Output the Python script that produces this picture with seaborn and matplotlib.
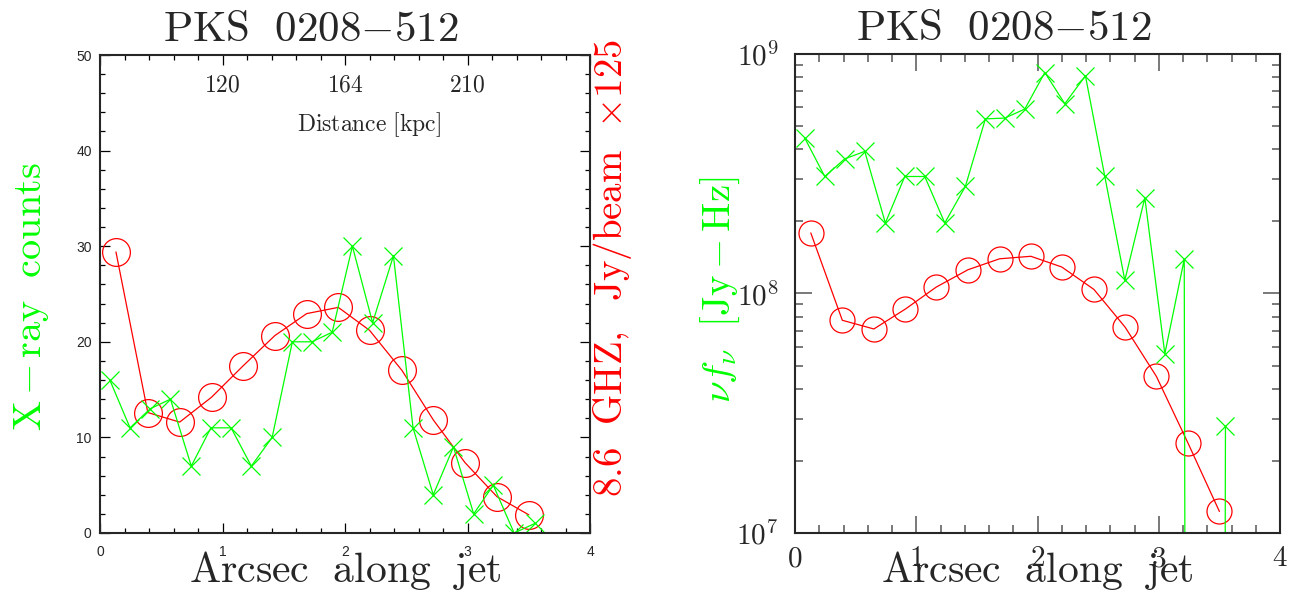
import numpy as np
import matplotlib
matplotlib.use("Agg")
import matplotlib.pyplot as plt
import seaborn as sns
from matplotlib.ticker import MultipleLocator, LogLocator, NullFormatter

# positions along the jet (arcsec)
xray_pos = [0.08, 0.245, 0.41, 0.575, 0.745, 0.905, 1.07, 1.235, 1.405, 1.57, 1.73,
            1.895, 2.06, 2.225, 2.395, 2.555, 2.72, 2.885, 3.05, 3.21, 3.38, 3.55]
xray_counts = [16, 11, 13, 14, 7, 11, 11, 7, 10, 20, 20, 21, 30, 22, 29, 11, 4, 9, 2, 5, 0, 1]
xray_nufnu = [4.46e8, 3.08e8, 3.65e8, 3.92e8, 1.97e8, 3.08e8, 3.08e8, 1.97e8, 2.80e8, 5.36e8,
              5.4e8, 5.89e8, 8.37e8, 6.2e8, 8.11e8, 3.08e8, 1.135e8, 2.51e8, 5.6e7, 1.39e8,
              0, 2.79e7]

radio_pos = [0.13, 0.39, 0.65, 0.91, 1.165, 1.427, 1.687, 1.945, 2.20, 2.465, 2.722, 2.98, 3.24, 3.50]
radio_flux = [29.4, 12.6, 11.6, 14.2, 17.45, 20.65, 22.95, 23.6, 21.2, 17.0, 11.8, 7.35, 3.8, 1.9]
radio_nufnu = [1.79e8, 7.73e7, 7.11e7, 8.61e7, 1.064e8, 1.257e8, 1.396e8, 1.43e8, 1.29e8,
               1.04e8, 7.24e7, 4.51e7, 2.38e7, 1.23e7]

kpc_pos = [1, 2, 3]
kpc_labels = ["120", "164", "210"]

GREEN = "#00ff00"
RED = "#ff0000"

sns.set_style("ticks")
plt.rcParams["mathtext.fontset"] = "cm"
plt.rcParams["font.family"] = ["Liberation Sans", "DejaVu Sans"]

fig = plt.figure(figsize=(12.94, 5.94), dpi=100)
ax1 = fig.add_axes([0.0773, 0.1027, 0.3787, 0.8047])
ax2 = fig.add_axes([0.6144, 0.1027, 0.3748, 0.8064])

# ---- left panel: counts / radio flux
sns.lineplot(x=radio_pos, y=radio_flux, ax=ax1, color=RED, lw=0.9, marker="o",
             markersize=20, markerfacecolor="none", markeredgecolor=RED,
             markeredgewidth=0.9, sort=False)
sns.lineplot(x=xray_pos, y=xray_counts, ax=ax1, color=GREEN, lw=0.9, marker="x",
             markersize=13, markeredgecolor=GREEN, markeredgewidth=0.9, sort=False)
ax1.set_xlim(0, 4)
ax1.set_ylim(0, 50)
ax1.xaxis.set_major_locator(MultipleLocator(1))
ax1.xaxis.set_minor_locator(MultipleLocator(0.2))
ax1.yaxis.set_major_locator(MultipleLocator(10))
ax1.yaxis.set_minor_locator(MultipleLocator(2))
ax1.tick_params(which="both", direction="in", top=True, right=True, width=0.9, color="k")
ax1.tick_params(which="major", length=7, labelsize=10)
ax1.tick_params(which="minor", length=3.6)
ax1.tick_params(axis="x", pad=9)
ax1.tick_params(axis="y", pad=6)
for s in ax1.spines.values():
    s.set_linewidth(1.5)
ax1.set_xlabel("")
ax1.set_ylabel("")

for p, lab in zip(kpc_pos, kpc_labels):
    ax1.text(p, 0.937, r"$\mathrm{%s}$" % lab, transform=ax1.get_xaxis_transform(),
             ha="center", va="center", fontsize=17)
ax1.text(0.55, 0.854, r"$\mathrm{Distance\ [kpc]}$", transform=ax1.transAxes,
         ha="center", va="center", fontsize=17)
ax1.text(0.43, 1.052, r"$\mathrm{PKS\ \ 0208{-}512}$", transform=ax1.transAxes,
         ha="center", va="center", fontsize=31)
ax1.text(0.5, -0.078, r"$\mathrm{Arcsec\ \ along\ \ jet}$", transform=ax1.transAxes,
         ha="center", va="center", fontsize=30)
ax1.text(-0.139, 0.494, r"$\mathrm{X\,{-}\,ray\ \ counts}$", transform=ax1.transAxes,
         ha="center", va="center", rotation=90, fontsize=29, color=GREEN)
ax1.text(1.045, 0.554, r"$\mathrm{8.6\ \ GHZ,\ \ Jy/beam\ \ {\times}125}$", transform=ax1.transAxes,
         ha="center", va="center", rotation=90, fontsize=28, color=RED)

# ---- right panel: nu f_nu
sns.lineplot(x=radio_pos, y=radio_nufnu, ax=ax2, color=RED, lw=0.9, marker="o",
             markersize=18, markerfacecolor="none", markeredgecolor=RED,
             markeredgewidth=0.9, sort=False)
xr = np.asarray(xray_nufnu, dtype=float)
xr = np.where(xr > 0, xr, 1e-30)  # zero counts drop off the log axis
sns.lineplot(x=xray_pos, y=xr, ax=ax2, color=GREEN, lw=0.9, marker="x",
             markersize=13, markeredgecolor=GREEN, markeredgewidth=0.9, sort=False)
ax2.set_yscale("log")
ax2.set_xlim(0, 4)
ax2.set_ylim(1e7, 1e9)
ax2.xaxis.set_major_locator(MultipleLocator(1))
ax2.xaxis.set_minor_locator(MultipleLocator(0.2))
ax2.yaxis.set_major_locator(LogLocator(base=10, numticks=5))
ax2.yaxis.set_minor_locator(LogLocator(base=10, subs=np.arange(2, 10), numticks=20))
ax2.yaxis.set_major_formatter(plt.FuncFormatter(
    lambda v, p: r"$\mathrm{10}^{\mathrm{%d}}$" % round(np.log10(v))))
ax2.yaxis.set_minor_formatter(NullFormatter())
ax2.xaxis.set_major_formatter(plt.FuncFormatter(lambda v, p: r"$\mathrm{%d}$" % v))
ax2.tick_params(which="both", direction="in", top=True, right=True, width=1.1, color="#555555")
ax2.tick_params(which="major", length=12, labelsize=21)
ax2.tick_params(which="minor", length=6)
ax2.tick_params(axis="x", pad=8)
ax2.tick_params(axis="y", pad=12)
for s in ax2.spines.values():
    s.set_linewidth(1.5)
ax2.set_xlabel("")
ax2.set_ylabel("")
ax2.text(0.43, 1.052, r"$\mathrm{PKS\ \ 0208{-}512}$", transform=ax2.transAxes,
         ha="center", va="center", fontsize=31)
ax2.text(0.5, -0.078, r"$\mathrm{Arcsec\ \ along\ \ jet}$", transform=ax2.transAxes,
         ha="center", va="center", fontsize=30)
ax2.text(-0.155, 0.507, r"$\nu f_\nu\ \ [\mathrm{Jy-Hz}]$", transform=ax2.transAxes,
         ha="center", va="center", rotation=90, fontsize=28, color=GREEN)

fig.savefig("out.png", dpi=100, facecolor="white")
